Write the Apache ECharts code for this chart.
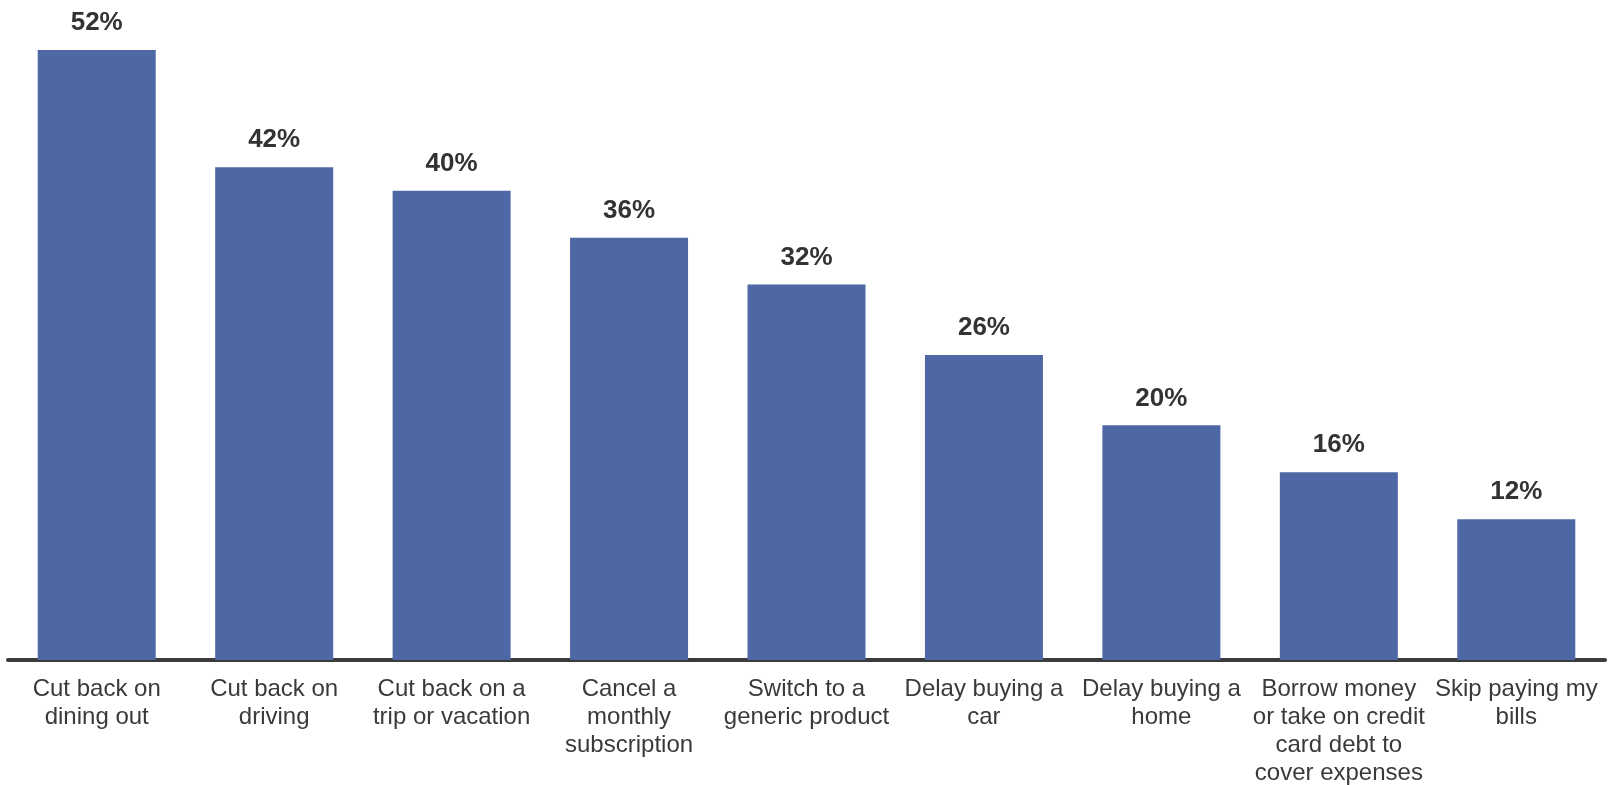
<!DOCTYPE html>
<html>
<head>
<meta charset="utf-8">
<script src="https://cdn.jsdelivr.net/npm/echarts@6/dist/echarts.min.js"></script>
<style>
html,body{margin:0;padding:0;background:#fff;}
#main{width:1611px;height:785px;}
</style>
</head>
<body>
<div id="main"></div>
<script>
const categories = [
  "Cut back on\ndining out",
  "Cut back on\ndriving",
  "Cut back on a\ntrip or vacation",
  "Cancel a\nmonthly\nsubscription",
  "Switch to a\ngeneric product",
  "Delay buying a\ncar",
  "Delay buying a\nhome",
  "Borrow money\nor take on credit\ncard debt to\ncover expenses",
  "Skip paying my\nbills"
];
const values = [52, 42, 40, 36, 32, 26, 20, 16, 12];

const FONT = "'Liberation Sans', Arial, sans-serif";
const chart = echarts.init(document.getElementById('main'));
chart.setOption({
  animation: false,
  backgroundColor: '#ffffff',
  grid: { left: 8, right: 6, top: 3, bottom: 125, containLabel: false, outerBoundsMode: 'none' },
  xAxis: {
    type: 'category',
    data: categories,
    axisLine: { show: true, lineStyle: { color: '#3b3b3b', width: 4 } },
    axisTick: { show: false },
    axisLabel: {
      interval: 0,
      margin: 15,
      color: '#3a3a3a',
      fontFamily: FONT,
      fontSize: 24,
      lineHeight: 28
    }
  },
  yAxis: {
    type: 'value',
    min: 0,
    max: 56,
    show: false,
    splitLine: { show: false }
  },
  series: [{
    type: 'bar',
    data: values,
    barCategoryGap: '33.5%',
    itemStyle: { color: '#4E67A5' },
    label: {
      show: true,
      position: 'top',
      distance: 14,
      formatter: '{c}%',
      color: '#333333',
      fontWeight: 'bold',
      fontFamily: FONT,
      fontSize: 26
    }
  }]
});
</script>
</body>
</html>
